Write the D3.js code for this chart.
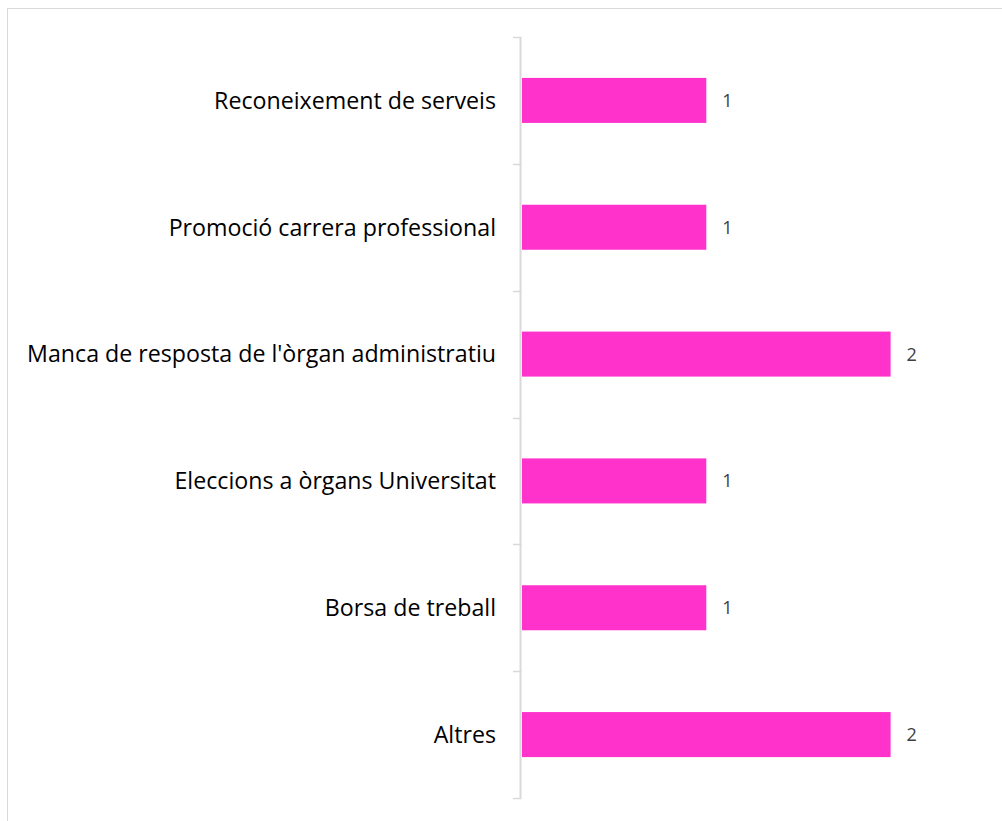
<!DOCTYPE html>
<html><head><meta charset="utf-8">
<script src="https://cdn.jsdelivr.net/npm/d3@7"></script>
<style>body{margin:0;background:#fff;}svg{display:block;}</style>
</head><body>
<script>
const categories = ["Reconeixement de serveis","Promoció carrera professional","Manca de resposta de l'òrgan administratiu","Eleccions a òrgans Universitat","Borsa de treball","Altres"];
const values = [1,1,2,1,1,2];

const W=1002,H=821;
const svg=d3.select("body").append("svg").attr("width",W).attr("height",H);
svg.append("rect").attr("x",7.5).attr("y",8.5).attr("width",W).attr("height",H)
  .attr("fill","#fff").attr("stroke","#d9d9d9").attr("stroke-width",1);

const x=d3.scaleLinear().domain([0,1]).range([522,706.3]);
const y=d3.scaleBand().domain(categories).range([37,798]).paddingInner(0.645).paddingOuter(0.3225);

const edges=d3.range(categories.length+1).map(i=>37+i*(798-37)/categories.length);
svg.append("line").attr("x1",520.5).attr("x2",520.5).attr("y1",37).attr("y2",798).attr("stroke","#d9d9d9").attr("stroke-width",2);
svg.selectAll(".tk").data(edges).join("line").attr("x1",513).attr("x2",521.5)
  .attr("y1",d=>Math.round(d)+0.5).attr("y2",d=>Math.round(d)+0.5).attr("stroke","#d9d9d9").attr("stroke-width",1.5);

svg.selectAll(".bar").data(categories).join("rect")
  .attr("x",x(0)).attr("y",d=>y(d)).attr("height",y.bandwidth())
  .attr("width",(d,i)=>x(values[i])-x(0)).attr("fill","#ff33cc");

svg.selectAll(".cl").data(categories).join("text")
  .attr("x",496).attr("y",d=>y(d)+y.bandwidth()/2).attr("dy","0.36em")
  .attr("text-anchor","end").attr("font-family","'Open Sans', sans-serif")
  .attr("font-size",23.2).attr("fill","#000").text(d=>d);

svg.selectAll(".vl").data(categories).join("text")
  .attr("x",(d,i)=>x(values[i])+16).attr("y",d=>y(d)+y.bandwidth()/2).attr("dy","0.36em")
  .attr("font-family","'Open Sans', sans-serif")
  .attr("font-size",18).attr("fill","#404040").text((d,i)=>values[i]);
</script>
</body></html>
